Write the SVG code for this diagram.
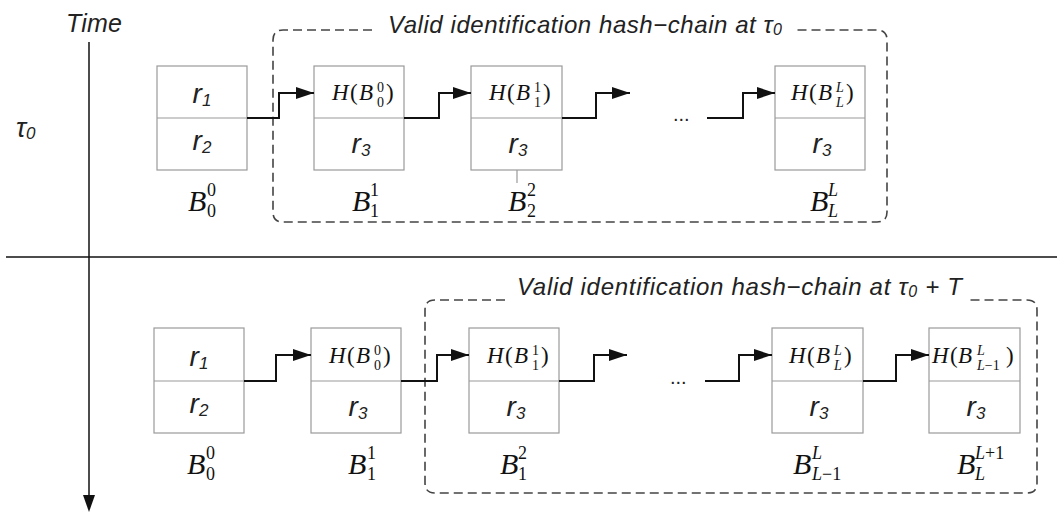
<svg xmlns="http://www.w3.org/2000/svg" width="1057" height="514" viewBox="0 0 1057 514">
<style>
.cell{fill:#fff;stroke:#9a9a9a;stroke-width:1.2}
.div{stroke:#9a9a9a;stroke-width:1.2}
.conn{fill:none;stroke:#111;stroke-width:2}
.axis{fill:none;stroke:#111;stroke-width:1.5}
.dash{fill:none;stroke:#444;stroke-width:1.6;stroke-dasharray:9 5}
.sans{font-family:"Liberation Sans","Arial",sans-serif;font-style:italic;fill:#222}
.r{font-family:"Liberation Sans","Arial",sans-serif;font-style:italic;font-size:28px;fill:#222;text-anchor:middle}
.rs{font-size:17px}
.m{font-family:"Liberation Serif","Times New Roman",serif;fill:#111;font-size:23px}
.it{font-style:italic}
.ms{font-size:14px}
.bl{font-family:"Liberation Serif","Times New Roman",serif;font-style:italic;fill:#111;font-size:30px}
.bs{font-size:18px;font-style:normal}
.bsi{font-size:18px;font-style:italic}
.dots{font-family:"Liberation Sans",sans-serif;font-size:20px;fill:#222}
</style>
<defs>
<marker id="ah" markerUnits="userSpaceOnUse" markerWidth="18" markerHeight="12" refX="18" refY="6" orient="auto">
<path d="M0,0 L18,6 L0,12 z" fill="#111"/>
</marker>
</defs>

<g id="axes">
<line class="axis" x1="89" y1="42" x2="89" y2="497"/>
<path d="M83,495 L95,495 L89,512 z" fill="#111"/>
<line class="axis" x1="6" y1="257" x2="1057" y2="257"/>
<text class="sans" x="66" y="32" font-size="25" textLength="56">Time</text>
<text class="sans" x="16" y="137" font-size="27">τ<tspan font-size="17" dy="2">0</tspan></text>
</g>

<g id="chain-top-frame">
<path class="dash" d="M372,30 L283,30 Q273,30 273,40 L273,212 Q273,222 283,222 L877,222 Q887,222 887,212 L887,40 Q887,30 877,30 L796,30"/>
<text class="sans" x="388" y="33" font-size="24" textLength="394">Valid identification hash−chain at τ<tspan font-size="16" dy="2">0</tspan></text>
</g>

<g id="chain-bottom-frame">
<path class="dash" d="M505,300 L435,300 Q425,300 425,310 L425,483 Q425,493 435,493 L1027,493 Q1037,493 1037,483 L1037,310 Q1037,300 1027,300 L967,300"/>
<text class="sans" x="517" y="295" font-size="24" textLength="445">Valid identification hash−chain at τ<tspan font-size="16" dy="2">0</tspan><tspan dy="-2"> + T</tspan></text>
</g>

<!-- top row -->
<g id="top-B00">
<rect class="cell" x="157" y="66" width="90" height="104"/>
<line class="div" x1="157" y1="118" x2="247" y2="118"/>
<text class="r" x="202" y="103">r<tspan class="rs" dy="3">1</tspan></text>
<text class="r" x="202" y="150">r<tspan class="rs" dy="3">2</tspan></text>
<text class="bl" x="188" y="211">B<tspan class="bs" x="207" y="196">0</tspan><tspan class="bs" x="207" y="217">0</tspan></text>
</g>
<g id="top-B11">
<rect class="cell" x="314" y="66" width="90" height="104"/>
<line class="div" x1="314" y1="118" x2="404" y2="118"/>
<text class="m" y="100"><tspan class="it" x="332">H</tspan><tspan x="350">(</tspan><tspan class="it" x="359">B</tspan><tspan class="ms" x="377" y="92">0</tspan><tspan class="ms" x="377" y="107">0</tspan><tspan x="386" y="100">)</tspan></text>
<text class="r" x="361" y="153">r<tspan class="rs" dy="3">3</tspan></text>
<text class="bl" x="352" y="211">B<tspan class="bs" x="370" y="196">1</tspan><tspan class="bs" x="370" y="217">1</tspan></text>
</g>
<g id="top-B22">
<rect class="cell" x="471" y="66" width="91" height="104"/>
<line class="div" x1="471" y1="118" x2="562" y2="118"/>
<text class="m" y="100"><tspan class="it" x="489">H</tspan><tspan x="507">(</tspan><tspan class="it" x="516">B</tspan><tspan class="ms" x="534" y="92">1</tspan><tspan class="ms" x="534" y="107">1</tspan><tspan x="543" y="100">)</tspan></text>
<text class="r" x="518" y="153">r<tspan class="rs" dy="3">3</tspan></text>
<line class="div" x1="517" y1="170" x2="517" y2="183" stroke-width="0.8"/>
<text class="bl" x="508" y="211">B<tspan class="bs" x="527" y="196">2</tspan><tspan class="bs" x="527" y="217">2</tspan></text>
</g>
<g id="top-BLL">
<rect class="cell" x="775" y="66" width="90" height="104"/>
<line class="div" x1="775" y1="118" x2="865" y2="118"/>
<text class="m" y="100"><tspan class="it" x="791">H</tspan><tspan x="809">(</tspan><tspan class="it" x="818">B</tspan><tspan class="ms it" x="836" y="92">L</tspan><tspan class="ms it" x="836" y="107">L</tspan><tspan x="846" y="100">)</tspan></text>
<text class="r" x="822" y="153">r<tspan class="rs" dy="3">3</tspan></text>
<text class="bl" x="810" y="211">B<tspan class="bsi" x="828" y="196">L</tspan><tspan class="bsi" x="828" y="217">L</tspan></text>
</g>
<text class="dots" x="673" y="121">...</text>

<!-- bottom row -->
<g id="bot-B00">
<rect class="cell" x="154" y="328" width="90" height="105"/>
<line class="div" x1="154" y1="381" x2="244" y2="381"/>
<text class="r" x="199" y="366">r<tspan class="rs" dy="3">1</tspan></text>
<text class="r" x="199" y="413">r<tspan class="rs" dy="3">2</tspan></text>
<text class="bl" x="187" y="474">B<tspan class="bs" x="206" y="459">0</tspan><tspan class="bs" x="206" y="480">0</tspan></text>
</g>
<g id="bot-B11">
<rect class="cell" x="311" y="328" width="90" height="105"/>
<line class="div" x1="311" y1="381" x2="401" y2="381"/>
<text class="m" y="363"><tspan class="it" x="329">H</tspan><tspan x="347">(</tspan><tspan class="it" x="356">B</tspan><tspan class="ms" x="374" y="355">0</tspan><tspan class="ms" x="374" y="370">0</tspan><tspan x="383" y="363">)</tspan></text>
<text class="r" x="358" y="416">r<tspan class="rs" dy="3">3</tspan></text>
<text class="bl" x="348" y="474">B<tspan class="bs" x="367" y="459">1</tspan><tspan class="bs" x="367" y="480">1</tspan></text>
</g>
<g id="bot-B12">
<rect class="cell" x="469" y="328" width="90" height="105"/>
<line class="div" x1="469" y1="381" x2="559" y2="381"/>
<text class="m" y="363"><tspan class="it" x="487">H</tspan><tspan x="505">(</tspan><tspan class="it" x="514">B</tspan><tspan class="ms" x="532" y="355">1</tspan><tspan class="ms" x="532" y="370">1</tspan><tspan x="541" y="363">)</tspan></text>
<text class="r" x="516" y="416">r<tspan class="rs" dy="3">3</tspan></text>
<text class="bl" x="500" y="474">B<tspan class="bs" x="518" y="459">2</tspan><tspan class="bs" x="518" y="480">1</tspan></text>
</g>
<g id="bot-BLm1">
<rect class="cell" x="772" y="328" width="91" height="105"/>
<line class="div" x1="772" y1="381" x2="863" y2="381"/>
<text class="m" y="363"><tspan class="it" x="789">H</tspan><tspan x="807">(</tspan><tspan class="it" x="816">B</tspan><tspan class="ms it" x="834" y="355">L</tspan><tspan class="ms it" x="834" y="370">L</tspan><tspan x="844" y="363">)</tspan></text>
<text class="r" x="819" y="416">r<tspan class="rs" dy="3">3</tspan></text>
<text class="bl" x="793" y="474">B<tspan class="bsi" x="812" y="459">L</tspan><tspan class="bsi" x="812" y="480">L<tspan class="bs">−1</tspan></tspan></text>
</g>
<g id="bot-BLL1">
<rect class="cell" x="929" y="328" width="91" height="105"/>
<line class="div" x1="929" y1="381" x2="1020" y2="381"/>
<text class="m" y="363"><tspan class="it" x="932">H</tspan><tspan x="950">(</tspan><tspan class="it" x="958">B</tspan><tspan class="ms it" x="977" y="355">L</tspan><tspan class="ms it" x="977" y="370">L</tspan><tspan class="ms" y="370">−1</tspan><tspan x="1006" y="363">)</tspan></text>
<text class="r" x="976" y="416">r<tspan class="rs" dy="3">3</tspan></text>
<text class="bl" x="957" y="474">B<tspan class="bsi" x="975" y="459">L</tspan><tspan class="bs" y="459">+1</tspan><tspan class="bsi" x="975" y="480">L</tspan></text>
</g>
<text class="dots" x="670" y="384">...</text>

<g id="connectors">
<path class="conn" marker-end="url(#ah)" d="M247,118 H279 V93 H314"/>
<path class="conn" marker-end="url(#ah)" d="M404,118 H439 V93 H471"/>
<path class="conn" marker-end="url(#ah)" d="M562,118 H596 V93 H630"/>
<path class="conn" marker-end="url(#ah)" d="M707,118 H743 V93 H775"/>
<path class="conn" marker-end="url(#ah)" d="M244,381 H276 V355 H311"/>
<path class="conn" marker-end="url(#ah)" d="M401,381 H437 V355 H469"/>
<path class="conn" marker-end="url(#ah)" d="M559,381 H594 V355 H627"/>
<path class="conn" marker-end="url(#ah)" d="M705,381 H739 V355 H772"/>
<path class="conn" marker-end="url(#ah)" d="M863,381 H896 V355 H929"/>
</g>
</svg>
